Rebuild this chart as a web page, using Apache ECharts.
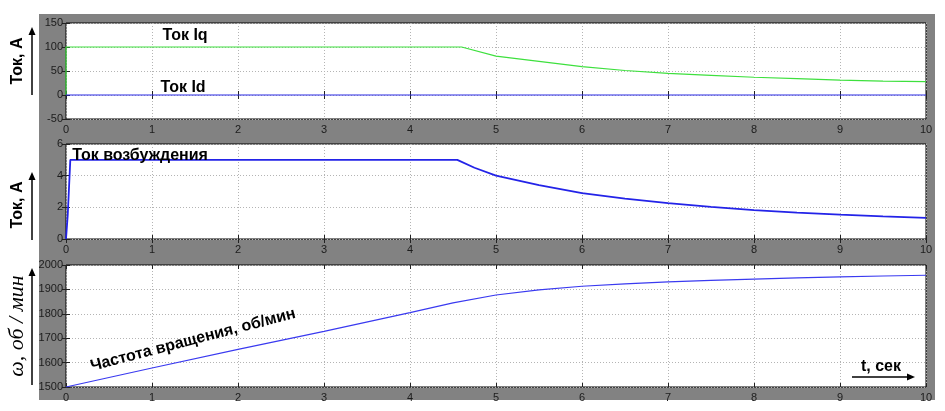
<!DOCTYPE html>
<html>
<head>
<meta charset="utf-8">
<script src="https://cdn.jsdelivr.net/npm/echarts@6/dist/echarts.min.js"></script>
<style>
  html, body { margin: 0; padding: 0; background: #fff; }
  #chart { width: 945px; height: 411px; }
</style>
</head>
<body>
<div id="chart"></div>
<script>
// время, с
const tIq = [0, 0, 4.6, 5, 5.5, 6, 6.5, 7, 7.5, 8, 8.5, 9, 9.5, 10]
const iq = [0, 100, 100, 81, 70, 59, 51, 45, 41, 37, 34, 31, 29, 28]
const tId = [0, 10]
const id = [0, 0]

const tExc = [0, 0.02, 0.05, 4.55, 4.75, 5, 5.5, 6, 6.5, 7, 7.5, 8, 8.5, 9, 9.5, 10]
const iExc = [0, 1.5, 5, 5, 4.5, 4.0, 3.4, 2.9, 2.55, 2.27, 2.03, 1.83, 1.67, 1.54, 1.43, 1.33]

const tSpeed = [0, 1, 2, 3, 4, 4.5, 5, 5.5, 6, 6.5, 7, 7.5, 8, 8.5, 9, 9.5, 10]
const speed = [1500, 1578, 1654, 1728, 1805, 1845, 1877, 1898, 1913, 1923, 1931, 1937, 1942, 1947, 1951, 1955, 1958]

const xTicks = { min: 0, max: 10, interval: 1 }
const yRanges = [
  { min: -50, max: 150, interval: 50 },
  { min: 0, max: 6, interval: 2 },
  { min: 1500, max: 2000, interval: 100 }
]

const pairs = (ts, vs) => ts.map((t, i) => [t, vs[i]])

const grids = [
  { left: 66, right: 19, top: 23, height: 96 },
  { left: 66, right: 19, top: 144, height: 95 },
  { left: 66, right: 19, top: 265, height: 122 }
].map(g => ({ ...g, show: true, backgroundColor: '#fff', borderColor: '#000', borderWidth: 1 }))

const labelStyle = {
  color: '#1c1c1c', fontSize: 11, fontFamily: 'Liberation Sans, Arial, sans-serif',
  formatter: v => String(v)
}
const tick = { inside: true, length: 4, lineStyle: { color: '#222' } }
const grid = { show: true, lineStyle: { color: '#b4b4b4', type: [1, 2], width: 1 } }

const xAxis = []
const yAxis = []
grids.forEach((g, i) => {
  xAxis.push({
    type: 'value', gridIndex: i, ...xTicks,
    axisLine: { show: false }, axisTick: tick, splitLine: grid,
    axisLabel: { ...labelStyle, margin: 5 }
  })
  xAxis.push({
    type: 'value', gridIndex: i, ...xTicks, position: 'top',
    axisLine: { show: false }, axisTick: tick, splitLine: { show: false },
    axisLabel: { show: false }
  })
  yAxis.push({
    type: 'value', gridIndex: i, ...yRanges[i],
    axisLine: { show: false }, axisTick: tick, splitLine: grid,
    axisLabel: { ...labelStyle, margin: 3 }
  })
  yAxis.push({
    type: 'value', gridIndex: i, ...yRanges[i], position: 'right',
    axisLine: { show: false }, axisTick: tick, splitLine: { show: false },
    axisLabel: { show: false }
  })
})

const lineSeries = (name, data, gi, color, width) => ({
  name, type: 'line', data, xAxisIndex: gi * 2, yAxisIndex: gi * 2,
  showSymbol: false, symbol: 'none', animation: false,
  lineStyle: { color, width }
})

const bold = 'bold 16px "Liberation Sans", Arial, sans-serif'
const arrowUp = (x, y1, y2) => [
  { type: 'line', shape: { x1: x, y1: y1, x2: x, y2: y2 + 6 }, style: { stroke: '#000', lineWidth: 1.5 } },
  { type: 'polygon', shape: { points: [[x - 3.5, y2 + 8], [x + 3.5, y2 + 8], [x, y2]] }, style: { fill: '#000' } }
]
const text = (t, x, y, font, extra) => ({
  type: 'text', x, y, z: 100, ...(extra || {}),
  style: { text: t, font, fill: '#000', align: 'center', verticalAlign: 'middle' }
})

const chart = echarts.init(document.getElementById('chart'))
chart.setOption({
  backgroundColor: '#fff',
  animation: false,
  grid: grids,
  xAxis,
  yAxis,
  series: [
    lineSeries('Ток Iq', pairs(tIq, iq), 0, '#3ee03e', 1.2),
    lineSeries('Ток Id', pairs(tId, id), 0, '#2a2ae6', 1.2),
    lineSeries('Ток возбуждения', pairs(tExc, iExc), 1, '#2323e8', 1.8),
    lineSeries('Частота вращения', pairs(tSpeed, speed), 2, '#3a3af0', 1.2)
  ],
  graphic: [
    { type: 'rect', z: -10, shape: { x: 39, y: 14, width: 896, height: 386 }, style: { fill: '#828282' } },
    text('Ток, А', 18, 61, 'bold 16px "Liberation Sans", Arial, sans-serif', { rotation: Math.PI / 2 }),
    ...arrowUp(32, 95, 27),
    text('Ток, А', 18, 205, 'bold 16px "Liberation Sans", Arial, sans-serif', { rotation: Math.PI / 2 }),
    ...arrowUp(32, 240, 172),
    text('ω, об / мин', 17, 326, 'italic 22px "Liberation Serif", "DejaVu Serif", serif', { rotation: Math.PI / 2 }),
    ...arrowUp(32, 385, 268),
    text('Ток Iq', 185, 36, bold),
    text('Ток Id', 183, 88, bold),
    text('Ток возбуждения', 140, 156, bold),
    text('Частота вращения, об/мин', 193, 340, 'bold 16px "Liberation Sans", Arial, sans-serif', { rotation: 0.255 }),
    text('t, сек', 881, 367, bold),
    { type: 'line', z: 100, shape: { x1: 852, y1: 377, x2: 909, y2: 377 }, style: { stroke: '#000', lineWidth: 1.5 } },
    { type: 'polygon', z: 100, shape: { points: [[907, 373.5], [907, 380.5], [915, 377]] }, style: { fill: '#000' } }
  ]
})
</script>
</body>
</html>
